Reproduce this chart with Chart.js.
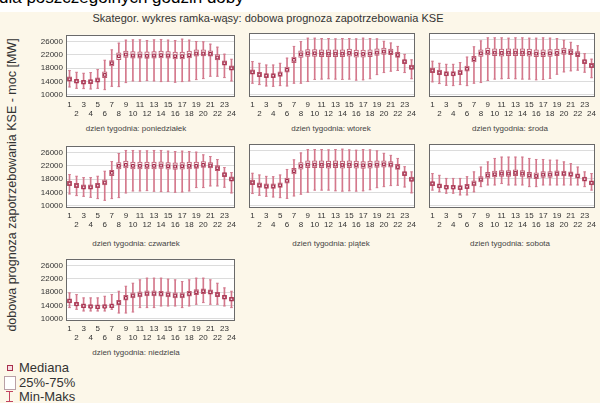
<!DOCTYPE html>
<html>
<head>
<meta charset="utf-8">
<script src="https://cdn.jsdelivr.net/npm/chart.js@4.4.1/dist/chart.umd.min.js"></script>
<style>
  body { margin: 0; width: 600px; height: 403px; overflow: hidden; position: relative;
         background: #fcf7e9; font-family: "Liberation Sans", Arial, sans-serif; color: #333; }
  .strip { position: absolute; left: 0; top: 0; width: 600px; height: 12px; background: #fff; overflow: hidden; }
  .strip span { position: absolute; left: -1px; top: -12px; font-size: 17px; line-height: 20px; color: #000; white-space: nowrap; }
  .title { position: absolute; left: 268px; top: 12px; transform: translateX(-50%); font-size: 11px; line-height: 13px; white-space: nowrap; color: #333; }
  .ytitle { position: absolute; left: 12px; top: 185px; transform: translate(-50%, -50%) rotate(-90deg); font-size: 12.5px; line-height: 14px; white-space: nowrap; color: #333; }
  .day { position: absolute; transform: translateX(-50%); font-size: 8px; line-height: 10px; white-space: nowrap; color: #444; }
  canvas { position: absolute; }
  .leg { position: absolute; left: 19px; font-size: 13px; line-height: 14px; color: #333; }
  .mk { position: absolute; }
</style>
</head>
<body>
<div class="strip"><span>dla poszczególnych godzin doby</span></div>
<div class="title">Skategor. wykres ramka-wąsy: dobowa prognoza zapotrzebowania KSE</div>
<div class="ytitle">dobowa prognoza zapotrzebowania KSE - moc [MW]</div>

<div class="mk" style="left:7px;top:365px;width:4px;height:4px;border:1px solid #a8304c;background:#f6dde3;"></div>
<div class="leg" style="top:361px;">Mediana</div>
<div class="mk" style="left:4px;top:376px;width:10px;height:12px;border:1px solid #b9a0a6;background:#fff;"></div>
<div class="leg" style="top:376px;">25%-75%</div>
<div class="mk" style="left:9px;top:391px;width:1px;height:11px;background:#c2445f;"></div>
<div class="mk" style="left:6px;top:391px;width:7px;height:1px;background:#c2445f;"></div>
<div class="mk" style="left:6px;top:401px;width:7px;height:1px;background:#c2445f;"></div>
<div class="leg" style="top:390px;">Min-Maks</div>

<script>
const godziny = ['1','2','3','4','5','6','7','8','9','10','11','12','13','14','15','16','17','18','19','20','21','22','23','24'];
const dni = ['poniedziałek', 'wtorek', 'środa', 'czwartek', 'piątek', 'sobota', 'niedziela'];
const yTicks = [10000, 14000, 18000, 22000, 26000];

const mediana = [
  [14700, 14100, 13800, 14000, 14400, 16000, 19500, 21600, 22100, 21800, 21800, 21700, 21800, 21900, 21800, 21600, 21600, 21900, 22400, 22400, 22300, 21200, 19500, 18000],
  [16600, 15900, 15600, 15600, 16000, 17300, 20200, 21800, 22100, 22100, 22000, 22000, 22000, 22000, 22200, 21900, 21900, 22000, 22300, 22600, 22400, 21600, 19700, 18000],
  [17100, 16500, 16100, 16100, 16500, 17600, 20400, 22100, 22500, 22300, 22200, 22300, 22300, 22300, 22200, 22000, 22000, 22100, 22200, 22600, 22400, 21800, 19700, 18500],
  [16700, 16100, 15600, 15600, 16100, 17000, 19900, 22000, 22300, 22000, 22000, 22000, 22000, 22100, 21900, 21800, 21900, 22000, 22000, 22300, 22100, 21300, 19400, 18000],
  [16800, 16000, 15700, 15700, 16000, 17300, 20100, 21600, 22000, 22000, 22000, 21900, 22000, 21900, 22000, 21900, 21800, 21900, 22000, 22100, 22000, 21300, 19400, 17700],
  [16500, 15800, 15400, 15400, 15300, 15600, 16500, 17700, 18900, 19200, 19400, 19400, 19600, 19400, 18900, 18700, 19100, 19100, 19400, 19400, 19200, 18700, 17800, 16700],
  [15400, 14400, 13900, 13700, 13600, 13700, 13900, 14900, 16300, 17000, 17300, 17600, 17600, 17500, 17300, 17000, 17000, 17500, 18000, 18300, 18000, 17300, 16500, 15900]
];
const q25 = [
  [14100, 13500, 13200, 13400, 13800, 15200, 18700, 20600, 21200, 21000, 21000, 20900, 21000, 21100, 21000, 20800, 20800, 21100, 21600, 21700, 21600, 20500, 18900, 17400],
  [16000, 15300, 15000, 15000, 15400, 16600, 19400, 20900, 21200, 21200, 21100, 21100, 21100, 21100, 21300, 21000, 21000, 21100, 21500, 21800, 21700, 20900, 19100, 17400],
  [16500, 15900, 15500, 15500, 15900, 16900, 19600, 21200, 21600, 21400, 21300, 21400, 21400, 21400, 21300, 21100, 21100, 21200, 21400, 21800, 21700, 21100, 19100, 17900],
  [16100, 15500, 15000, 15000, 15500, 16300, 19100, 21100, 21400, 21100, 21100, 21100, 21100, 21200, 21000, 20900, 21000, 21100, 21200, 21500, 21400, 20600, 18800, 17400],
  [16200, 15400, 15100, 15100, 15400, 16600, 19300, 20700, 21100, 21100, 21100, 21000, 21100, 21000, 21100, 21000, 20900, 21000, 21200, 21300, 21300, 20600, 18800, 17100],
  [15900, 15200, 14900, 14900, 14700, 15000, 15800, 17000, 18100, 18400, 18600, 18600, 18800, 18600, 18100, 17900, 18300, 18300, 18700, 18700, 18600, 18100, 17200, 16100],
  [14800, 13900, 13400, 13200, 13100, 13200, 13400, 14300, 15600, 16300, 16600, 16900, 16900, 16800, 16600, 16300, 16300, 16800, 17300, 17600, 17400, 16700, 15900, 15300]
];
const q75 = [
  [15400, 14700, 14400, 14600, 15100, 16900, 20300, 22600, 23100, 23000, 22900, 22900, 23000, 23100, 23000, 22800, 22800, 23100, 23500, 23500, 23200, 22100, 20200, 18700],
  [17300, 16600, 16200, 16200, 16700, 18100, 21000, 22800, 23200, 23200, 23100, 23100, 23100, 23100, 23300, 23000, 23000, 23100, 23400, 23600, 23300, 22400, 20300, 18700],
  [17800, 17200, 16800, 16800, 17200, 18400, 21200, 23100, 23600, 23400, 23300, 23400, 23400, 23400, 23300, 23100, 23100, 23200, 23300, 23600, 23300, 22600, 20300, 19200],
  [17400, 16800, 16300, 16300, 16800, 17800, 20700, 23000, 23400, 23100, 23100, 23100, 23100, 23200, 23000, 22900, 23000, 23100, 23100, 23300, 23000, 22100, 20000, 18700],
  [17500, 16700, 16400, 16400, 16700, 18100, 20900, 22600, 23100, 23100, 23100, 23000, 23100, 23000, 23100, 23000, 22900, 23000, 23100, 23100, 22900, 22100, 20000, 18400],
  [17100, 16400, 16000, 16000, 15900, 16300, 17300, 18500, 19800, 20100, 20300, 20300, 20500, 20300, 19800, 19600, 20000, 20000, 20200, 20100, 19900, 19300, 18400, 17300],
  [16000, 15000, 14500, 14300, 14200, 14300, 14500, 15600, 17100, 17800, 18100, 18400, 18400, 18300, 18100, 17800, 17800, 18300, 18800, 19000, 18700, 18000, 17100, 16500]
];
const minimum = [
  [12400, 12000, 11900, 11800, 12000, 11600, 12600, 12500, 13700, 14200, 14100, 14300, 14200, 14000, 14100, 13800, 14000, 14200, 14600, 14900, 15600, 15600, 15200, 14200],
  [13400, 13000, 12600, 12500, 12700, 12600, 13400, 13400, 13900, 14500, 14600, 14700, 14600, 14500, 14600, 14300, 14400, 14700, 15900, 16500, 16900, 17100, 16500, 14700],
  [13800, 13300, 12800, 12700, 13000, 12700, 13400, 13600, 14200, 14600, 14700, 14800, 14700, 14600, 14600, 14400, 14500, 14800, 16000, 16700, 17000, 17200, 16600, 15000],
  [13600, 13100, 12900, 12600, 12200, 11700, 12200, 12500, 13900, 14500, 14500, 14600, 14400, 14300, 14300, 14100, 14200, 14500, 15500, 15500, 16000, 16000, 15600, 13900],
  [13600, 13100, 12800, 12600, 12400, 12200, 12900, 13400, 14000, 14600, 14600, 14600, 14400, 14300, 14400, 14300, 14400, 14700, 15300, 15600, 15900, 16000, 15500, 13800],
  [14600, 14100, 13700, 13700, 13200, 13200, 14100, 15600, 16100, 16100, 16500, 16100, 16100, 16100, 15600, 15600, 16100, 16100, 16100, 16100, 16100, 16100, 15600, 14600],
  [13400, 12900, 12400, 12400, 12400, 12400, 12900, 11800, 11800, 12100, 13400, 13400, 13400, 13900, 13900, 13900, 13400, 13900, 14400, 14900, 14400, 14400, 13900, 13400]
];
const maksimum = [
  [17300, 16800, 16500, 16700, 17600, 20400, 23500, 25500, 26400, 26500, 26500, 26300, 26500, 26600, 26400, 26300, 26700, 26400, 26000, 25900, 25200, 24300, 22200, 20700],
  [19700, 19200, 18700, 18700, 19200, 20700, 24100, 25500, 26500, 26500, 26400, 26400, 26300, 26400, 26400, 26300, 26500, 26400, 26300, 25600, 25100, 24100, 21800, 20200],
  [19800, 19200, 18900, 18900, 19400, 21000, 24000, 25700, 26600, 26600, 26600, 26500, 26600, 26600, 26500, 26500, 26600, 26500, 26400, 25900, 25300, 24300, 22000, 20400],
  [19400, 18900, 18500, 18500, 18900, 20400, 23300, 25700, 26600, 26600, 26500, 26500, 26600, 26600, 26400, 26300, 26400, 26300, 26100, 25300, 24800, 23900, 21500, 20000],
  [19500, 19000, 18600, 18500, 19000, 20600, 23400, 25400, 26400, 26400, 26400, 26300, 26400, 26500, 26300, 26200, 26400, 26300, 26000, 25300, 24700, 23800, 21400, 19900],
  [19400, 18900, 18000, 18000, 18000, 18500, 19900, 21300, 22800, 23800, 24200, 24200, 24200, 24200, 23800, 23500, 23500, 23300, 23300, 22800, 22300, 21300, 19900, 19400],
  [17800, 17300, 16300, 16300, 16300, 16800, 17300, 18300, 19800, 20700, 21700, 22200, 22200, 22200, 21900, 21700, 21200, 21700, 22200, 22200, 21700, 20700, 19300, 18300]
];

const plotLefts = [66, 246, 426];
const plotTops = [33, 144, 257];
const dayLabelY = [124, 239, 348];
const dayLabelX = [136, 331, 510];
const PW = 171, PH = 64, PAD_T = 6, PAD_L = 2, PAD_R = 3, XH = 24;
const fontFam = "'Liberation Sans', Arial, sans-serif";

const framePlugin = {
  id: 'frame',
  beforeDraw(chart) {
    const a = chart.chartArea, ctx = chart.ctx;
    ctx.save();
    ctx.fillStyle = '#ffffff';
    ctx.fillRect(a.left, a.top, a.right - a.left, a.bottom - a.top);
    ctx.restore();
  },
  afterDraw(chart) {
    const a = chart.chartArea, ctx = chart.ctx;
    ctx.save();
    ctx.strokeStyle = '#6a6a6a';
    ctx.lineWidth = 1;
    ctx.strokeRect(Math.round(a.left) + 0.5, Math.round(a.top) + 0.5, Math.round(a.right - a.left) - 1, Math.round(a.bottom - a.top) - 1);
    ctx.restore();
  }
};

function makePanel(d) {
  const col = d % 3, row = Math.floor(d / 3);
  const yW = col === 0 ? 36 : 0;
  const canvas = document.createElement('canvas');
  canvas.width = PAD_L + yW + PW + PAD_R;
  canvas.height = PAD_T + PH + XH;
  canvas.style.left = (plotLefts[col] - yW - PAD_L) + 'px';
  canvas.style.top = (plotTops[row] - PAD_T) + 'px';
  document.body.appendChild(canvas);

  const label = document.createElement('div');
  label.className = 'day';
  label.style.left = dayLabelX[col] + 'px';
  label.style.top = dayLabelY[row] + 'px';
  label.textContent = 'dzień tygodnia: ' + dni[d];
  document.body.appendChild(label);

  const whiskers = minimum[d].map((v, i) => [v, maksimum[d][i]]);
  const boxes = q25[d].map((v, i) => [v, q75[d][i]]);

  new Chart(canvas, {
    type: 'bar',
    data: {
      labels: godziny,
      datasets: [
        { type: 'line', data: mediana[d], showLine: false, pointStyle: 'rect', pointRadius: 1.9,
          borderColor: '#9e2545', backgroundColor: '#f3d3da', borderWidth: 1, order: 1 },
        { type: 'line', data: maksimum[d], showLine: false, pointStyle: 'line', pointRadius: 1.3,
          borderColor: '#d27d90', borderWidth: 1, order: 2 },
        { type: 'line', data: minimum[d], showLine: false, pointStyle: 'line', pointRadius: 1.3,
          borderColor: '#d27d90', borderWidth: 1, order: 2 },
        { data: boxes, backgroundColor: '#fcf1f3', borderColor: '#bd5b71', borderWidth: 1,
          borderSkipped: false, barThickness: 4.5, grouped: false, order: 3 },
        { data: whiskers, backgroundColor: '#d4788c', barThickness: 1, grouped: false, order: 4 }
      ]
    },
    options: {
      responsive: false,
      animation: false,
      layout: { padding: { top: PAD_T, left: PAD_L, right: PAD_R, bottom: 0 } },
      plugins: { legend: { display: false }, tooltip: { enabled: false } },
      scales: {
        x: {
          offset: true,
          grid: { display: false, drawTicks: false },
          border: { display: false },
          ticks: {
            autoSkip: false, maxRotation: 0, minRotation: 0, padding: 3.5, color: '#333',
            font: { size: 8, lineHeight: 1.125, family: fontFam },
            callback: (v, i) => i % 2 === 0 ? [godziny[i], ''] : ['', godziny[i]]
          },
          afterFit: s => { s.height = XH; }
        },
        y: {
          min: 9400, max: 28000,
          grid: { color: '#dcdcdc', lineWidth: 1, drawTicks: false },
          border: { display: false },
          afterBuildTicks: s => { s.ticks = yTicks.map(v => ({ value: v })); },
          ticks: { display: col === 0, padding: 3, color: '#333', font: { size: 8, family: fontFam },
                   callback: v => String(v) },
          afterFit: s => { s.width = yW; }
        }
      }
    },
    plugins: [framePlugin]
  });
}

for (let d = 0; d < dni.length; d++) makePanel(d);
</script>
</body>
</html>
